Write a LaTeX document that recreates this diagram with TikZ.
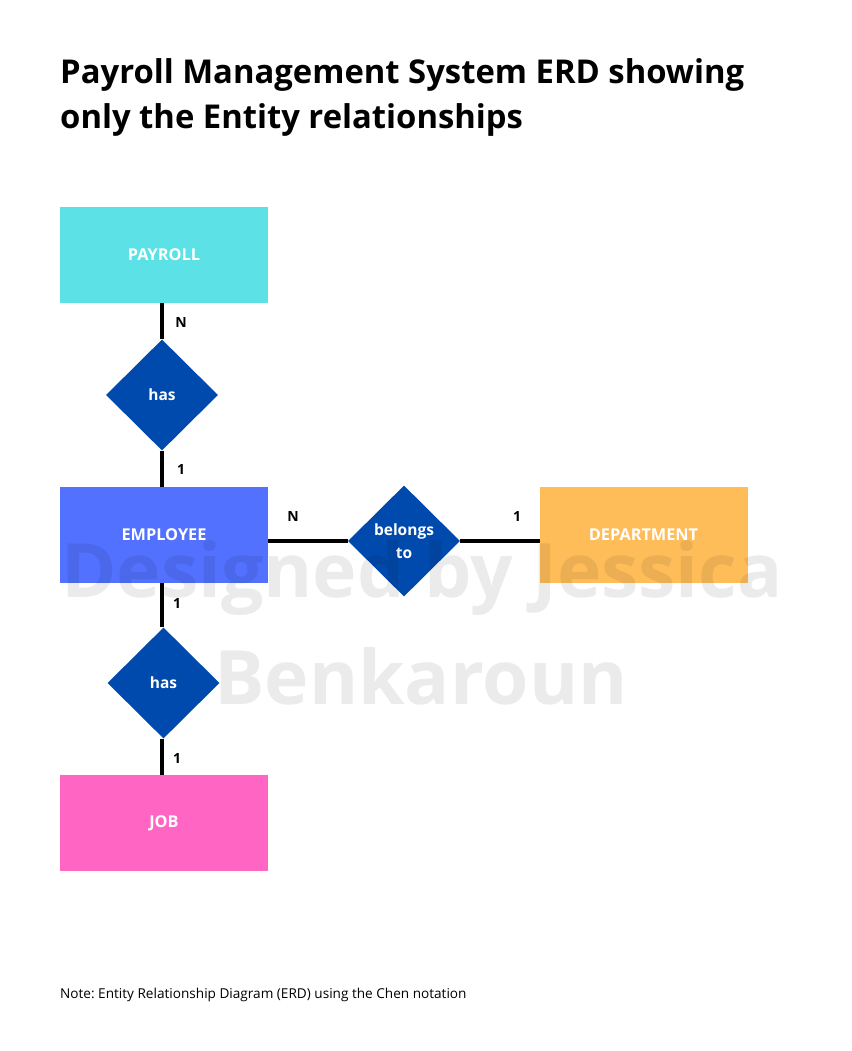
\documentclass[tikz,border=0pt]{standalone}
\usepackage{fontspec}
\setmainfont{Open Sans}
\usetikzlibrary{shapes.geometric}
\definecolor{cpay}{HTML}{5CE1E6}
\definecolor{cemp}{HTML}{5271FF}
\definecolor{cdep}{HTML}{FFBD59}
\definecolor{cjob}{HTML}{FF66C4}
\definecolor{crel}{HTML}{004AAD}
\tikzset{
  entity/.style={rectangle, minimum width=208pt, minimum height=96pt, inner sep=0pt,
    text=white, font=\fontsize{16.3}{18}\selectfont\bfseries},
  relation/.style={diamond, aspect=1, minimum width=112pt, minimum height=111pt, inner sep=0pt,
    fill=crel, text=white, align=center, font=\fontsize{15.5}{22.5}\selectfont\bfseries},
  conn/.style={line width=3.8pt, black},
  card/.style={font=\fontsize{14}{16}\selectfont\bfseries, inner sep=0pt},
  watermark/.style={text=black, opacity=0.08, inner sep=0pt, font=\fontsize{75}{80}\selectfont\bfseries},
}
\frenchspacing
\begin{document}
\begin{tikzpicture}[x=1pt,y=-1pt]
\useasboundingbox[fill=white] (0,0) rectangle (851,1051);
\node[anchor=base west, inner sep=0pt, font=\fontsize{32.8}{38}\selectfont\bfseries] (title) at (60,84)
  {Payroll Management System ERD showing};
\node[anchor=base west, inner sep=0pt, font=\fontsize{32.8}{38}\selectfont\bfseries] (title2) at (60,129)
  {only the Entity relationships};
% entities
\node[entity, fill=cpay] (pay) at (164,255) {PAYROLL};
\node[entity, fill=cemp] (emp) at (164,535) {EMPLOYEE};
\node[entity, fill=cdep] (dep) at (643.5,535) {DEPARTMENT};
\node[entity, fill=cjob] (job) at (164,823) {JOB};
% relations
\node[relation] (has1) at (162,395) {has};
\node[relation] (bel) at (404,541) {belongs\\to};
\node[relation] (has2) at (163.5,683) {has};
% connectors
\coordinate (p1) at (162,303);
\coordinate (e1) at (162,487);
\coordinate (e2) at (268,541);
\coordinate (d1) at (540,541);
\coordinate (e3) at (162,583);
\coordinate (j1) at (162,775);
\draw[conn] (p1) -- (has1.north);
\draw[conn] (has1.south) -- (e1);
\draw[conn] (e2) -- (bel.west);
\draw[conn] (bel.east) -- (d1);
\draw[conn] (e3) -- (has2.north -| e3);
\draw[conn] (has2.south -| j1) -- (j1);
% cardinalities
\node[card] (c1) at (181,323) {N};
\node[card] (c2) at (181,469) {1};
\node[card] (c3) at (293,516) {N};
\node[card] (c4) at (517,516) {1};
\node[card] (c5) at (177,603) {1};
\node[card] (c6) at (177,758) {1};
% note
\node[anchor=base west, inner sep=0pt, font=\fontsize{13.6}{15}\selectfont] (note) at (60,998)
  {Note: Entity Relationship Diagram (ERD) using the Chen notation};
% watermark
\node[watermark] (wm1) at (422,578) {Designed by Jessica};
\node[watermark] (wm2) at (421,676) {Benkaroun};
\end{tikzpicture}
\end{document}
